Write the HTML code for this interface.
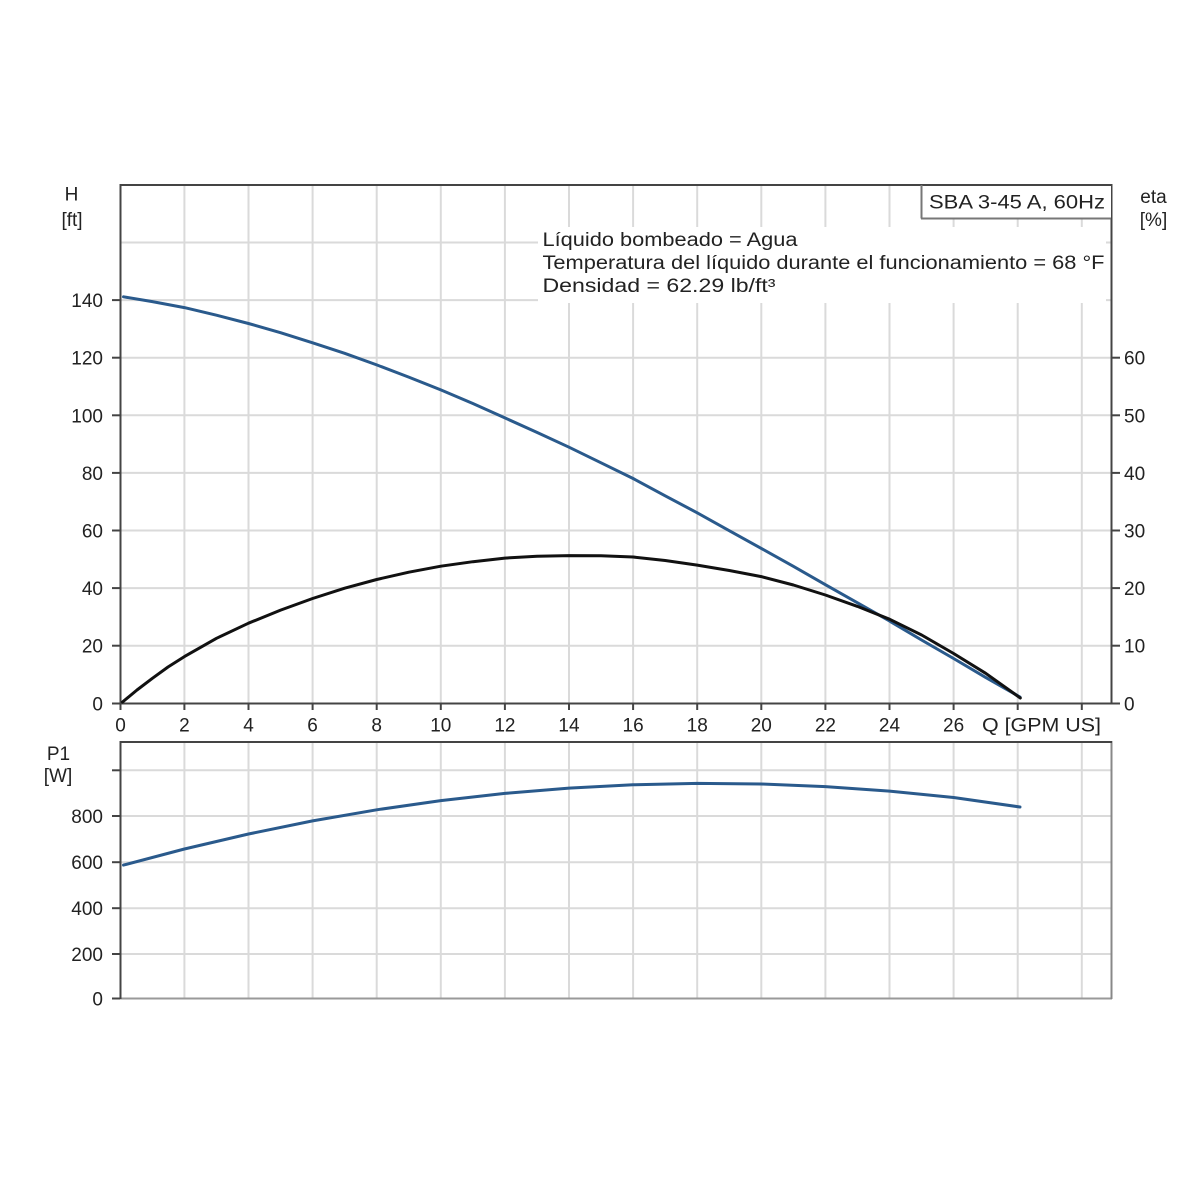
<!DOCTYPE html>
<html>
<head>
<meta charset="utf-8">
<style>
html,body{margin:0;padding:0;background:#fff;}
svg{display:block;}
text{font-family:"Liberation Sans",Arial,sans-serif;font-size:19px;fill:#222;}
</style>
</head>
<body>
<svg width="1200" height="1200" viewBox="0 0 1200 1200" xmlns="http://www.w3.org/2000/svg">
<rect x="0" y="0" width="1200" height="1200" fill="#fff"/>

<!-- ===== TOP PLOT GRID ===== -->
<g stroke="#dadada" stroke-width="2" fill="none">
  <line x1="184.4" y1="185" x2="184.4" y2="703"/>
  <line x1="248.5" y1="185" x2="248.5" y2="703"/>
  <line x1="312.6" y1="185" x2="312.6" y2="703"/>
  <line x1="376.7" y1="185" x2="376.7" y2="703"/>
  <line x1="440.8" y1="185" x2="440.8" y2="703"/>
  <line x1="504.9" y1="185" x2="504.9" y2="703"/>
  <line x1="569.0" y1="185" x2="569.0" y2="703"/>
  <line x1="633.1" y1="185" x2="633.1" y2="703"/>
  <line x1="697.2" y1="185" x2="697.2" y2="703"/>
  <line x1="761.3" y1="185" x2="761.3" y2="703"/>
  <line x1="825.4" y1="185" x2="825.4" y2="703"/>
  <line x1="889.5" y1="185" x2="889.5" y2="703"/>
  <line x1="953.6" y1="185" x2="953.6" y2="703"/>
  <line x1="1017.7" y1="185" x2="1017.7" y2="703"/>
  <line x1="1081.8" y1="185" x2="1081.8" y2="703"/>
  <line x1="120" y1="645.7" x2="1111" y2="645.7"/>
  <line x1="120" y1="588.1" x2="1111" y2="588.1"/>
  <line x1="120" y1="530.5" x2="1111" y2="530.5"/>
  <line x1="120" y1="472.9" x2="1111" y2="472.9"/>
  <line x1="120" y1="415.3" x2="1111" y2="415.3"/>
  <line x1="120" y1="357.7" x2="1111" y2="357.7"/>
  <line x1="120" y1="300.1" x2="1111" y2="300.1"/>
  <line x1="120" y1="242.5" x2="1111" y2="242.5"/>
</g>

<!-- text box background -->
<rect x="538" y="227" width="568" height="76" fill="#fff"/>

<!-- ===== BOTTOM PLOT GRID ===== -->
<g stroke="#dadada" stroke-width="2" fill="none">
  <line x1="184.4" y1="742" x2="184.4" y2="998"/>
  <line x1="248.5" y1="742" x2="248.5" y2="998"/>
  <line x1="312.6" y1="742" x2="312.6" y2="998"/>
  <line x1="376.7" y1="742" x2="376.7" y2="998"/>
  <line x1="440.8" y1="742" x2="440.8" y2="998"/>
  <line x1="504.9" y1="742" x2="504.9" y2="998"/>
  <line x1="569.0" y1="742" x2="569.0" y2="998"/>
  <line x1="633.1" y1="742" x2="633.1" y2="998"/>
  <line x1="697.2" y1="742" x2="697.2" y2="998"/>
  <line x1="761.3" y1="742" x2="761.3" y2="998"/>
  <line x1="825.4" y1="742" x2="825.4" y2="998"/>
  <line x1="889.5" y1="742" x2="889.5" y2="998"/>
  <line x1="953.6" y1="742" x2="953.6" y2="998"/>
  <line x1="1017.7" y1="742" x2="1017.7" y2="998"/>
  <line x1="1081.8" y1="742" x2="1081.8" y2="998"/>
  <line x1="120" y1="770.3" x2="1111" y2="770.3"/>
  <line x1="120" y1="816" x2="1111" y2="816"/>
  <line x1="120" y1="862.2" x2="1111" y2="862.2"/>
  <line x1="120" y1="908.2" x2="1111" y2="908.2"/>
  <line x1="120" y1="954" x2="1111" y2="954"/>
</g>

<!-- ===== TOP PLOT FRAME ===== -->
<g stroke="#444" stroke-width="2" fill="none">
  <line x1="120" y1="185" x2="1112" y2="185"/>
  <line x1="120.5" y1="184" x2="120.5" y2="704"/>
  <line x1="1111.5" y1="184" x2="1111.5" y2="704"/>
  <line x1="112" y1="703.5" x2="1112" y2="703.5"/>
</g>
<g stroke="#444" stroke-width="2">
  <line x1="112" y1="645.7" x2="120" y2="645.7"/>
  <line x1="112" y1="588.1" x2="120" y2="588.1"/>
  <line x1="112" y1="530.5" x2="120" y2="530.5"/>
  <line x1="112" y1="472.9" x2="120" y2="472.9"/>
  <line x1="112" y1="415.3" x2="120" y2="415.3"/>
  <line x1="112" y1="357.7" x2="120" y2="357.7"/>
  <line x1="112" y1="300.1" x2="120" y2="300.1"/>
  <line x1="1111" y1="703.5" x2="1120" y2="703.5"/>
  <line x1="1111" y1="645.7" x2="1120" y2="645.7"/>
  <line x1="1111" y1="588.1" x2="1120" y2="588.1"/>
  <line x1="1111" y1="530.5" x2="1120" y2="530.5"/>
  <line x1="1111" y1="472.9" x2="1120" y2="472.9"/>
  <line x1="1111" y1="415.3" x2="1120" y2="415.3"/>
  <line x1="1111" y1="357.7" x2="1120" y2="357.7"/>
  <line x1="120.5" y1="703" x2="120.5" y2="710"/>
  <line x1="184.4" y1="703" x2="184.4" y2="710"/>
  <line x1="248.5" y1="703" x2="248.5" y2="710"/>
  <line x1="312.6" y1="703" x2="312.6" y2="710"/>
  <line x1="376.7" y1="703" x2="376.7" y2="710"/>
  <line x1="440.8" y1="703" x2="440.8" y2="710"/>
  <line x1="504.9" y1="703" x2="504.9" y2="710"/>
  <line x1="569.0" y1="703" x2="569.0" y2="710"/>
  <line x1="633.1" y1="703" x2="633.1" y2="710"/>
  <line x1="697.2" y1="703" x2="697.2" y2="710"/>
  <line x1="761.3" y1="703" x2="761.3" y2="710"/>
  <line x1="825.4" y1="703" x2="825.4" y2="710"/>
  <line x1="889.5" y1="703" x2="889.5" y2="710"/>
  <line x1="953.6" y1="703" x2="953.6" y2="710"/>
  <line x1="1017.7" y1="703" x2="1017.7" y2="710"/>
  <line x1="1081.8" y1="703" x2="1081.8" y2="710"/>
</g>

<!-- ===== BOTTOM PLOT FRAME ===== -->
<g fill="none" stroke-width="2">
  <line x1="120" y1="998.5" x2="1112" y2="998.5" stroke="#999"/>
  <line x1="1111.5" y1="741" x2="1111.5" y2="999" stroke="#888"/>
  <line x1="120" y1="742" x2="1112" y2="742" stroke="#444"/>
  <line x1="120.5" y1="741" x2="120.5" y2="999" stroke="#444"/>
</g>
<g stroke="#444" stroke-width="2">
  <line x1="112" y1="770.3" x2="120" y2="770.3"/>
  <line x1="112" y1="816" x2="120" y2="816"/>
  <line x1="112" y1="862.2" x2="120" y2="862.2"/>
  <line x1="112" y1="908.2" x2="120" y2="908.2"/>
  <line x1="112" y1="954" x2="120" y2="954"/>
  <line x1="112" y1="998.5" x2="120" y2="998.5"/>
</g>

<!-- ===== CURVES ===== -->
<polyline fill="none" stroke="#2a5a8c" stroke-width="3" stroke-linejoin="round" stroke-linecap="round"
  points="123.5,296.8 152.35,301.6 184.4,307.6 216.45,315.2 248.5,323.5 280.55,332.7 312.6,342.8 344.65,353.3 376.7,364.9 408.75,377.1 440.8,389.9 472.85,403.5 504.9,417.9 536.95,432.4 569.0,447.2 601.05,462.8 633.1,478.5 665.15,495.8 697.2,512.8 729.25,530.7 761.3,548.4 793.35,566.3 825.4,584.7 857.45,602.8 889.5,621.0 921.55,640.0 953.6,658.5 985.65,677.4 1020,697"/>
<polyline fill="none" stroke="#111" stroke-width="3" stroke-linejoin="round" stroke-linecap="round"
  points="122.5,702 137,690 152.4,678.3 168,667 184.4,656.6 216.5,638.3 248.5,623.2 280.6,610.1 312.6,598.5 344.7,588.2 376.7,579.5 408.8,572.2 440.8,566.2 472.9,561.7 504.9,558.1 537,556.3 569.0,555.6 601,555.8 633.1,557.0 665.2,560.5 697.2,565.1 729.3,570.5 761.3,576.6 793.4,585.0 825.4,595.0 857.5,606.4 889.5,619.2 921.6,635.0 953.6,653.5 985.7,673.3 1020.3,698"/>
<polyline fill="none" stroke="#2a5a8c" stroke-width="3" stroke-linejoin="round" stroke-linecap="round"
  points="123.5,865.1 184.4,849.0 248.5,834.0 312.6,820.9 376.7,809.8 440.8,800.6 504.9,793.4 569.0,788.1 633.1,784.8 697.2,783.4 761.3,784.0 825.4,786.6 889.5,791.1 953.6,797.5 1020,807"/>

<!-- ===== TITLE BOX ===== -->
<rect x="921" y="186" width="190" height="32" fill="#fff"/>
<line x1="921.5" y1="185" x2="921.5" y2="218.5" stroke="#777" stroke-width="2"/>
<line x1="921" y1="218.5" x2="1111" y2="218.5" stroke="#777" stroke-width="2"/>
<text x="929" y="208.5" textLength="176" lengthAdjust="spacingAndGlyphs">SBA 3-45 A, 60Hz</text>

<text x="542.5" y="246" textLength="255" lengthAdjust="spacingAndGlyphs">Líquido bombeado = Agua</text>
<text x="542.5" y="269" textLength="562" lengthAdjust="spacingAndGlyphs">Temperatura del líquido durante el funcionamiento = 68 °F</text>
<text x="542.5" y="292" textLength="233" lengthAdjust="spacingAndGlyphs">Densidad = 62.29 lb/ft³</text>

<text x="71.5" y="200.5" text-anchor="middle">H</text>
<text x="72" y="226" text-anchor="middle">[ft]</text>
<text x="1153.5" y="203" text-anchor="middle">eta</text>
<text x="1153.5" y="226" text-anchor="middle">[%]</text>
<text x="58.5" y="760" text-anchor="middle">P1</text>
<text x="58" y="782" text-anchor="middle">[W]</text>

<g text-anchor="end">
  <text x="103" y="710.5">0</text>
  <text x="103" y="652.7">20</text>
  <text x="103" y="595.1">40</text>
  <text x="103" y="537.5">60</text>
  <text x="103" y="479.9">80</text>
  <text x="103" y="422.3">100</text>
  <text x="103" y="364.7">120</text>
  <text x="103" y="307.1">140</text>
</g>
<g text-anchor="start">
  <text x="1124" y="710.5">0</text>
  <text x="1124" y="652.7">10</text>
  <text x="1124" y="595.1">20</text>
  <text x="1124" y="537.5">30</text>
  <text x="1124" y="479.9">40</text>
  <text x="1124" y="422.3">50</text>
  <text x="1124" y="364.7">60</text>
</g>
<g text-anchor="middle">
  <text x="120.5" y="731.5">0</text>
  <text x="184.4" y="731.5">2</text>
  <text x="248.5" y="731.5">4</text>
  <text x="312.6" y="731.5">6</text>
  <text x="376.7" y="731.5">8</text>
  <text x="440.8" y="731.5">10</text>
  <text x="504.9" y="731.5">12</text>
  <text x="569.0" y="731.5">14</text>
  <text x="633.1" y="731.5">16</text>
  <text x="697.2" y="731.5">18</text>
  <text x="761.3" y="731.5">20</text>
  <text x="825.4" y="731.5">22</text>
  <text x="889.5" y="731.5">24</text>
  <text x="953.6" y="731.5">26</text>
</g>
<rect x="980" y="711" width="122" height="26" fill="#fff"/>
<text x="982" y="731.5" textLength="119" lengthAdjust="spacingAndGlyphs">Q [GPM US]</text>

<g text-anchor="end">
  <text x="103" y="823">800</text>
  <text x="103" y="869.2">600</text>
  <text x="103" y="915.2">400</text>
  <text x="103" y="961">200</text>
  <text x="103" y="1005.5">0</text>
</g>
</svg>
</body>
</html>
